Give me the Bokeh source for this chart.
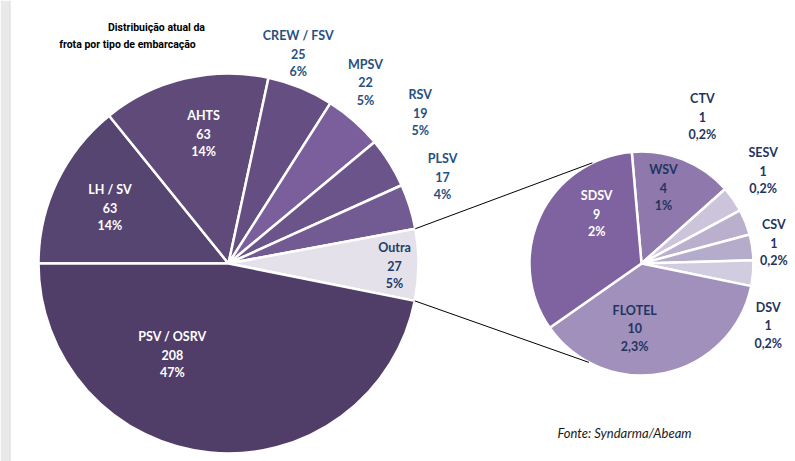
import numpy as np
from bokeh.plotting import figure
from bokeh.models import Range1d, ColumnDataSource
from bokeh.core.properties import value
from bokeh.embed import file_html
from bokeh.resources import INLINE

# ---------------- data ----------------
main_labels = ["LH / SV", "AHTS", "CREW / FSV", "MPSV", "RSV", "PLSV", "Outra", "PSV / OSRV"]
main_counts = [63, 63, 25, 22, 19, 17, 27, 208]
main_pct = ["14%", "14%", "6%", "5%", "5%", "4%", "5%", "47%"]

sub_labels = ["WSV", "CTV", "SESV", "CSV", "DSV", "FLOTEL", "SDSV"]
sub_counts = [4, 1, 1, 1, 1, 10, 9]
sub_pct = ["1%", "0,2%", "0,2%", "0,2%", "0,2%", "2,3%", "2%"]

title_lines = ["Distribuição atual da", "frota por tipo de embarcação"]
source_note = "Fonte: Syndarma/Abeam"

# ---------------- styles / layout ----------------
main_colors = ["#574571", "#5f4a7a", "#654f82", "#7a5f9c", "#6a5489", "#725b93", "#e4e1eb", "#503e69"]
main_text_colors = ["white", "white", "#27507f", "#27507f", "#27507f", "#27507f", "#1f3c66", "white"]
main_label_r = [131, 132, 221, 227, 244, 231, 166, 107]
main_label_ang = [154.8, 100.9, 71.6, 52.9, 38.2, 22.1, -0.7, -121.6]

sub_colors = ["#8f79ac", "#cbc4da", "#bab0ce", "#b5abca", "#d2cce0", "#a190bc", "#7f62a0"]
sub_text_colors = ["#1f3560", "#1f3560", "#1f3560", "#1f3560", "#1f3560", "#1f3560", "white"]
sub_label_r = [79, 159, 153, 134, 141, 65, 67]
sub_label_ang = [73.9, 67.5, 37.3, 9.0, -26.0, -96.0, 132.0]

W, H = 795, 461
main_c = (228, H - 263)
main_R = 190
main_start = 180.0
sub_c = (641, H - 263)
sub_R = 112
sub_start = 95.0
sub_join_ang = [116.0, -118.0]

LABEL_FONT = value("Lato")
FS = "12.5px"
LINE = 18

p = figure(width=W, height=H, x_range=Range1d(0, W), y_range=Range1d(0, H),
           output_backend="svg", toolbar_location=None, min_border=0)
p.axis.visible = False
p.grid.visible = False
p.outline_line_color = None
p.background_fill_color = "white"
p.border_fill_color = "white"

# left page strip
p.quad(left=[0, 9], right=[9, 10], bottom=[0, 0], top=[H, H],
       fill_color=["#e9e9e9", "#d6d6d6"], line_color=None)


def pie(center, R, start, counts, colors):
    counts = np.array(counts, dtype=float)
    sweep = counts / counts.sum() * 360.0
    ends = start - np.cumsum(sweep)
    starts = ends + sweep
    src = ColumnDataSource(dict(
        x=[center[0]] * len(counts), y=[center[1]] * len(counts),
        s=np.radians(starts), e=np.radians(ends), c=colors))
    p.wedge(x="x", y="y", radius=R, start_angle="s", end_angle="e", direction="clock",
            fill_color="c", line_color="white", line_width=2.5, source=src)
    return starts, ends


def labels(center, names, counts, pcts, r, ang, tcolors):
    ang = np.radians(ang)
    lx = center[0] + np.array(r) * np.cos(ang)
    ly = center[1] + np.array(r) * np.sin(ang)
    src = ColumnDataSource(dict(x=lx, y=ly, n=names, v=[str(c) for c in counts], pc=pcts, tc=tcolors))
    for col, off in (("n", -LINE), ("v", 0), ("pc", LINE)):
        p.text(x="x", y="y", text=col, source=src, y_offset=off, text_align="center",
               text_baseline="middle", text_font=LABEL_FONT, text_font_size=FS,
               text_font_style="bold", text_color="tc")


m_starts, m_ends = pie(main_c, main_R, main_start, main_counts, main_colors)
s_starts, s_ends = pie(sub_c, sub_R, sub_start, sub_counts, sub_colors)

# connector lines from "Outra" slice edges to the secondary pie
oi = main_labels.index("Outra")
for a_main, a_sub in zip([m_starts[oi], m_ends[oi]], sub_join_ang):
    x0 = main_c[0] + main_R * np.cos(np.radians(a_main))
    y0 = main_c[1] + main_R * np.sin(np.radians(a_main))
    x1 = sub_c[0] + sub_R * np.cos(np.radians(a_sub))
    y1 = sub_c[1] + sub_R * np.sin(np.radians(a_sub))
    p.line([x0, x1], [y0, y1], line_color="black", line_width=1)

labels(main_c, main_labels, main_counts, main_pct, main_label_r, main_label_ang, main_text_colors)
labels(sub_c, sub_labels, sub_counts, sub_pct, sub_label_r, sub_label_ang, sub_text_colors)

# title
p.text(x=[156, 127], y=[H - 27, H - 44], text=title_lines, text_align="center", text_baseline="middle",
       text_font=value("Roboto"), text_font_size="10.5px", text_font_style="bold",
       text_color="black")

# source note
p.text(x=[557], y=[H - 432], text=[source_note], text_align="left", text_baseline="middle",
       text_font=LABEL_FONT, text_font_size="13px", text_font_style="italic", text_color="#1a1a1a")

open("out.html", "w").write(file_html(p, INLINE))
